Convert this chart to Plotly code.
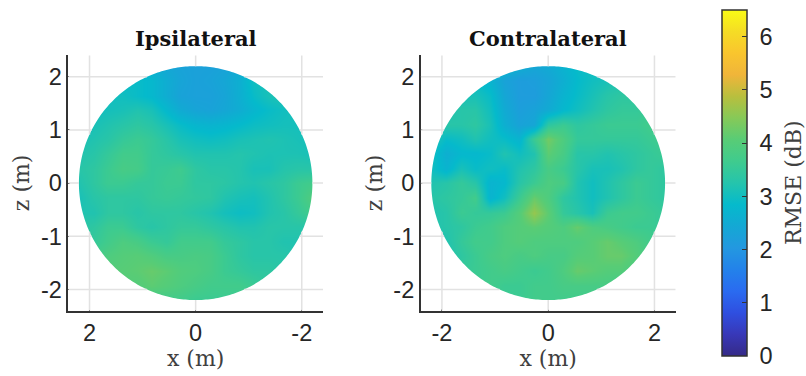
import numpy as np
import plotly.graph_objects as go

W, H = 806, 376
RADIUS = 2.2
cbar_title = "RMSE (dB)"
titles = ["Ipsilateral", "Contralateral"]
x_ticks_grid = [-2, 0, 2]
y_ticks_grid = [-2, -1, 0, 1, 2]
cbar_ticks = [0, 1, 2, 3, 4, 5, 6]

x_right = [-2.2, -1.925, -1.65, -1.375, -1.1, -0.825, -0.55, -0.275, 0, 0.275, 0.55, 0.825, 1.1, 1.375, 1.65, 1.925, 2.2]
x_left = x_right[::-1]
z_rows = x_right[::-1]

ipsi = [
 [2.9,2.9,2.9,2.9,2.8,2.6,2.4,2.3,2.25,2.25,2.3,2.5,2.8,2.9,3.0,3.0,3.0],
 [2.9,2.9,2.9,2.9,2.9,2.8,2.55,2.35,2.25,2.3,2.4,2.6,3.0,3.1,3.1,3.0,3.0],
 [3.0,3.0,3.0,3.0,2.9,2.8,2.55,2.3,2.25,2.25,2.35,2.6,2.9,3.1,3.2,3.1,3.0],
 [3.0,3.0,3.05,3.1,3.2,3.1,2.8,2.5,2.35,2.3,2.4,2.55,2.75,2.9,3.0,3.1,3.0],
 [3.0,3.1,3.2,3.3,3.4,3.3,3.1,2.9,2.75,2.7,2.75,2.85,2.95,3.0,3.05,3.05,3.0],
 [3.1,3.2,3.3,3.5,3.6,3.5,3.3,3.1,3.0,2.95,3.0,3.1,3.15,3.2,3.15,3.1,3.05],
 [3.2,3.3,3.5,3.7,3.7,3.5,3.4,3.3,3.2,3.2,3.2,3.25,3.2,3.15,3.15,3.15,3.1],
 [3.3,3.4,3.6,3.8,3.75,3.5,3.55,3.65,3.4,3.3,3.3,3.25,3.1,3.1,3.25,3.3,3.3],
 [3.2,3.4,3.6,3.6,3.5,3.5,3.6,3.6,3.4,3.4,3.35,3.25,3.2,3.3,3.4,3.6,3.7],
 [3.1,3.3,3.4,3.4,3.4,3.5,3.55,3.5,3.45,3.4,3.2,3.1,3.05,3.2,3.4,3.6,3.95],
 [3.2,3.2,3.4,3.4,3.3,3.4,3.4,3.4,3.3,3.2,3.05,2.95,3.0,3.2,3.3,3.5,3.7],
 [3.3,3.4,3.6,3.6,3.4,3.3,3.4,3.5,3.5,3.4,3.3,3.2,3.2,3.3,3.3,3.3,3.3],
 [3.4,3.5,3.7,3.9,3.8,3.6,3.5,3.7,3.7,3.7,3.5,3.4,3.3,3.3,3.2,3.2,3.2],
 [3.5,3.7,3.9,4.0,4.05,3.95,3.8,3.8,3.85,3.8,3.6,3.4,3.3,3.3,3.3,3.2,3.2],
 [3.6,3.8,4.0,4.05,4.1,4.2,4.1,3.95,3.9,3.8,3.6,3.5,3.4,3.4,3.3,3.3,3.3],
 [3.7,3.8,3.9,4.0,4.0,4.1,4.0,3.9,3.8,3.7,3.7,3.7,3.6,3.4,3.4,3.3,3.3],
 [3.6,3.7,3.7,3.7,3.7,3.7,3.7,3.7,3.6,3.6,3.6,3.6,3.5,3.4,3.4,3.3,3.3],
]

contra = [
 [3.0,3.0,3.0,3.0,3.0,2.9,2.6,2.4,2.5,2.7,2.9,3.0,3.0,3.0,3.0,3.0,3.0],
 [2.9,2.9,2.9,2.9,2.7,2.3,2.15,2.2,2.35,2.6,2.85,3.0,3.1,3.2,3.2,3.2,3.2],
 [3.1,3.1,3.1,3.1,2.9,2.4,2.15,2.15,2.4,2.7,2.9,3.1,3.3,3.4,3.4,3.4,3.4],
 [3.2,3.2,3.3,3.3,3.0,2.5,2.2,2.3,2.5,2.8,3.0,3.2,3.4,3.5,3.5,3.6,3.6],
 [3.3,3.3,3.3,3.4,3.1,2.6,2.3,2.4,3.4,3.6,3.4,3.5,3.6,3.6,3.6,3.7,3.7],
 [3.2,2.9,3.0,3.2,3.0,2.9,2.7,3.6,4.3,3.9,3.5,3.5,3.5,3.5,3.5,3.6,3.7],
 [3.0,2.6,2.8,2.8,2.9,3.2,3.0,3.2,4.1,3.8,3.3,3.3,3.2,3.3,3.4,3.5,3.6],
 [3.0,2.7,3.1,2.9,3.0,2.9,3.2,3.4,3.8,3.6,3.3,3.1,3.1,3.2,3.4,3.5,3.4],
 [3.2,3.3,3.5,3.3,2.7,2.8,3.3,3.6,3.9,3.8,3.2,3.0,3.2,3.4,3.6,3.5,3.4],
 [3.3,3.4,3.5,3.7,2.7,3.0,3.6,4.2,3.9,3.4,3.2,3.0,3.2,3.4,3.6,3.5,3.4],
 [3.2,3.3,3.6,3.5,3.5,3.6,4.0,4.6,4.1,3.5,3.3,3.1,3.6,3.7,3.7,3.6,3.5],
 [3.2,3.3,3.4,3.6,3.7,3.9,4.0,4.1,4.0,3.9,4.2,3.9,3.8,3.7,3.6,3.6,3.5],
 [3.1,3.2,3.5,3.7,3.7,3.9,4.0,3.9,3.9,3.9,3.9,4.05,4.2,4.05,3.9,3.7,3.6],
 [3.2,3.2,3.4,3.6,3.8,3.9,3.8,3.9,3.8,3.8,4.0,4.05,4.2,4.2,4.0,3.7,3.5],
 [3.3,3.4,3.5,3.6,3.7,3.8,3.7,3.6,3.7,3.9,4.2,4.1,4.0,4.0,3.8,3.6,3.5],
 [3.4,3.5,3.5,3.6,3.7,3.6,3.6,3.7,3.7,3.8,3.8,3.8,3.8,3.7,3.6,3.6,3.5],
 [3.5,3.5,3.5,3.6,3.6,3.6,3.6,3.7,3.7,3.7,3.7,3.7,3.6,3.6,3.6,3.5,3.5],
]

parula = [
 [0.0, "#352a87"], [0.0625, "#3838b8"], [0.125, "#2f4fe0"], [0.1875, "#2a6bf0"],
 [0.25, "#2382ea"], [0.3125, "#2398e0"], [0.375, "#14a8d4"], [0.4375, "#05bacc"],
 [0.5, "#25c4ac"], [0.5625, "#3fcb8e"], [0.625, "#58cc76"], [0.6875, "#86c958"],
 [0.75, "#b8bf3e"], [0.8125, "#f0b53a"], [0.875, "#f9c52e"], [0.9375, "#f5dc25"],
 [1.0, "#f9fb15"],
]

GRID = "#e2e2e2"
DARK = "#333333"
TICK_FONT = dict(family="Liberation Sans, Arial, sans-serif", size=23.5, color="#262626")
SERIF = "DejaVu Serif, Liberation Serif, serif"
LABEL_FONT = dict(family=SERIF, size=22, color="#404040")

fig = go.Figure()
fig.add_trace(go.Heatmap(x=x_left, y=z_rows, z=ipsi, coloraxis="coloraxis", zsmooth="best", xaxis="x", yaxis="y", hoverinfo="skip"))
fig.add_trace(go.Heatmap(x=x_right, y=z_rows, z=contra, coloraxis="coloraxis", zsmooth="best", xaxis="x2", yaxis="y2", hoverinfo="skip"))

def ring_path():
    t = np.linspace(0, 2 * np.pi, 361)
    px = RADIUS * np.cos(t)
    py = RADIUS * np.sin(t)
    e = 2.37
    outer = f"M{-e},{-e} L{e},{-e} L{e},{e} L{-e},{e} Z "
    inner = "M" + " L".join(f"{a:.4f},{b:.4f}" for a, b in zip(px, py)) + " Z"
    return outer + inner

shapes = []
for xr, yr in (("x", "y"), ("x2", "y2")):
    shapes.append(dict(type="path", path=ring_path(), xref=xr, yref=yr, fillcolor="white",
                       line=dict(width=0), layer="above", fillrule="evenodd"))
    grid = dict(color=GRID, width=1.5)
    for v in x_ticks_grid:
        h = np.sqrt(RADIUS**2 - v**2)
        for a, b in ((-2.4, -h), (h, 2.4)):
            shapes.append(dict(type="line", x0=v, x1=v, y0=a, y1=b, xref=xr, yref=yr, line=grid, layer="above"))
    for v in y_ticks_grid:
        h = np.sqrt(RADIUS**2 - v**2)
        for a, b in ((-2.4, -h), (h, 2.4)):
            shapes.append(dict(type="line", x0=a, x1=b, y0=v, y1=v, xref=xr, yref=yr, line=grid, layer="above"))

common = dict(showgrid=False, zeroline=False, showline=True, linecolor=DARK, linewidth=1.5,
              ticks="inside", ticklen=5, tickcolor=DARK, tickwidth=1, tickfont=TICK_FONT, layer="above traces")

def dom_x(a, b):
    return [a / W, b / W]

y_dom = [1 - 310.7 / H, 1 - 55 / H]

fig.update_layout(
    width=W, height=H, margin=dict(l=0, r=0, t=0, b=0),
    paper_bgcolor="white", plot_bgcolor="white", showlegend=False,
    shapes=shapes,
    coloraxis=dict(
        cmin=0, cmax=6.5, colorscale=parula,
        colorbar=dict(
            x=722 / W, xanchor="left", y=20 / H, yanchor="bottom",
            lenmode="pixels", len=346, thicknessmode="pixels", thickness=25,
            xpad=0, ypad=0, outlinecolor=DARK, outlinewidth=1.5,
            ticks="inside", ticklen=5, tickcolor=DARK, tickvals=cbar_ticks,
            ticktext=["\u00a0" + str(v) for v in cbar_ticks],
            tickfont=TICK_FONT,
        ),
    ),
    xaxis=dict(domain=dom_x(68.3, 323), range=[2.4, -2.4], tickvals=[2, 0, -2],
               ticktext=["2", "0", "-2"], anchor="y",
               title=dict(text="x (m)", font=LABEL_FONT, standoff=5), **common),
    yaxis=dict(domain=y_dom, range=[-2.4, 2.41], tickvals=y_ticks_grid,
               ticktext=["-2", "-1", "0", "1", "2"], anchor="x",
               title=dict(text="z (m)", font=LABEL_FONT, standoff=5), **common),
    xaxis2=dict(domain=dom_x(420.7, 675.7), range=[-2.4, 2.4], tickvals=x_ticks_grid,
                ticktext=["-2", "0", "2"], anchor="y2",
                title=dict(text="x (m)", font=LABEL_FONT, standoff=5), **common),
    yaxis2=dict(domain=y_dom, range=[-2.4, 2.41], tickvals=y_ticks_grid,
                ticktext=["-2", "-1", "0", "1", "2"], anchor="x2",
                title=dict(text="z (m)", font=LABEL_FONT, standoff=5), **common),
    annotations=[
        dict(text=f"<b>{titles[0]}</b>", x=195.6 / W, y=1 - 38 / H, xref="paper", yref="paper",
             xanchor="center", yanchor="middle", showarrow=False,
             font=dict(family=SERIF, size=21, color="#111111")),
        dict(text=f"<b>{titles[1]}</b>", x=548 / W, y=1 - 38 / H, xref="paper", yref="paper",
             xanchor="center", yanchor="middle", showarrow=False,
             font=dict(family=SERIF, size=21, color="#111111")),
        dict(text=cbar_title, x=793 / W, y=1 - 183 / H, xref="paper", yref="paper", textangle=-90,
             xanchor="center", yanchor="middle", showarrow=False, font=LABEL_FONT),
    ],
)

fig.write_html("out.html", config={"displayModeBar": False},
               post_script="document.body.style.margin='0';document.documentElement.style.overflow='hidden';")
